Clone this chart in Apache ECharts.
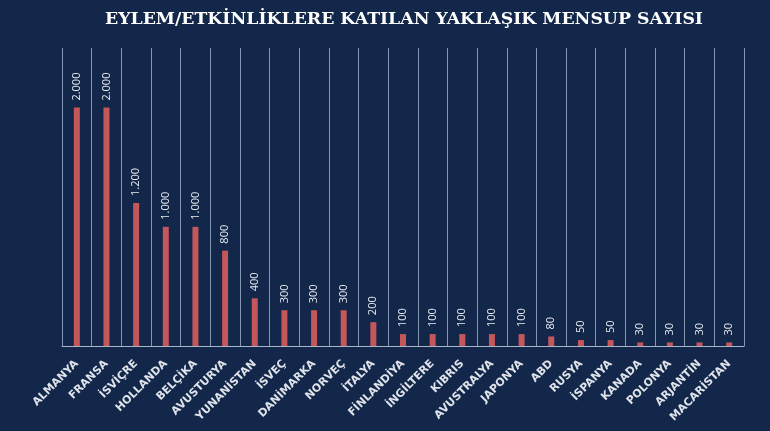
<!DOCTYPE html>
<html>
<head>
<meta charset="utf-8">
<script src="https://cdn.jsdelivr.net/npm/echarts@6/dist/echarts.min.js"></script>
<style>
html,body{margin:0;padding:0;background:#13274a;}
#c{width:770px;height:431px;}
</style>
</head>
<body>
<div id="c"></div>
<script>
const titleText = 'EYLEM/ETKİNLİKLERE KATILAN YAKLAŞIK MENSUP SAYISI';
const categories = ['ALMANYA','FRANSA','İSVİÇRE','HOLLANDA','BELÇİKA','AVUSTURYA','YUNANİSTAN','İSVEÇ','DANİMARKA','NORVEÇ','İTALYA','FİNLANDİYA','İNGİLTERE','KIBRIS','AVUSTRALYA','JAPONYA','ABD','RUSYA','İSPANYA','KANADA','POLONYA','ARJANTİN','MACARİSTAN'];
const values = [2000,2000,1200,1000,1000,800,400,300,300,300,200,100,100,100,100,100,80,50,50,30,30,30,30];

const chart = echarts.init(document.getElementById('c'));
chart.setOption({
  backgroundColor: '#13274a',
  animation: false,
  title: {
    text: titleText,
    left: 399, top: 6, textAlign: 'center',
    textStyle: {color: '#ffffff', fontFamily: 'DejaVu Serif', fontWeight: 'bold', fontSize: 17.3}
  },
  grid: {left: 62, right: 26, top: 48, bottom: 85},
  xAxis: {
    type: 'category',
    data: categories,
    axisLine: {lineStyle: {color: '#a9b6c9', width: 1}},
    axisTick: {show: false},
    splitLine: {show: true, lineStyle: {color: '#8396b2', width: 1}},
    axisLabel: {
      interval: 0, rotate: 45, margin: 16,
      color: '#dfe3ea', fontFamily: 'DejaVu Sans', fontWeight: 'bold', fontSize: 11
    }
  },
  yAxis: {type: 'value', min: 0, max: 2500, show: false, splitLine: {show: false}},
  series: [{
    type: 'bar',
    data: values,
    barWidth: 6,
    itemStyle: {color: '#c4575a'},
    label: {
      show: true, position: 'top', rotate: 90, align: 'left', verticalAlign: 'middle', distance: 7,
      color: '#e8ebf0', fontFamily: 'Open Sans', fontSize: 11,
      formatter: p => p.value.toLocaleString('de-DE')
    }
  }]
});
</script>
</body>
</html>
